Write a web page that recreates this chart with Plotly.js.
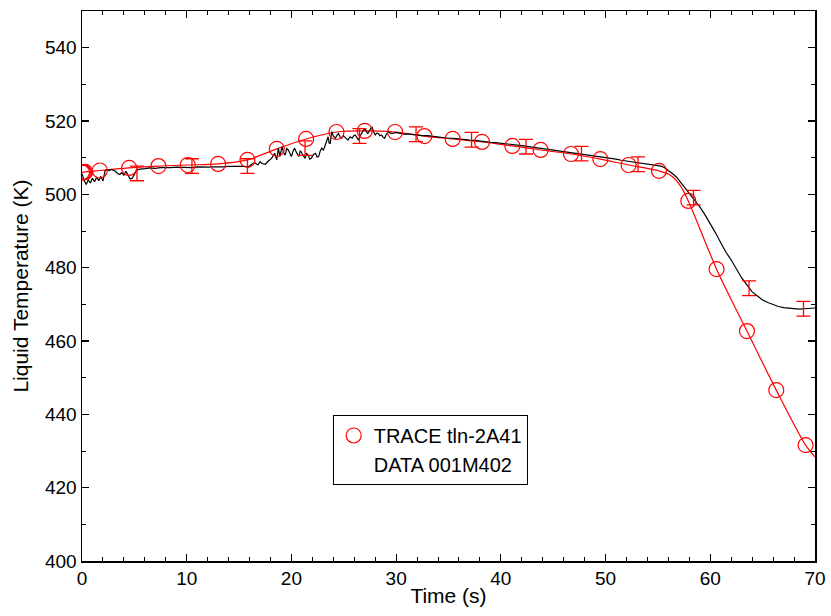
<!DOCTYPE html>
<html>
<head>
<meta charset="utf-8">
<script src="https://cdn.plot.ly/plotly-3.0.1.min.js"></script>
<style>html,body{margin:0;padding:0;background:#fff;}#chart{width:831px;height:616px;}</style>
</head>
<body>
<div id="chart"></div>
<script>
// Measured DATA 001M402 (black line)
const dataTime = [0.0,0.2,0.4,0.6,0.8,1.0,1.2,1.4,1.6,1.8,2.0,2.2,2.4,2.6,2.8,3.0,3.2,3.4,3.6,3.8,4.0,4.2,4.4,4.6,4.8,5.0,5.2,5.4,5.6,5.8,6.0,6.5,7.0,7.5,8.0,8.5,9.0,9.5,10.0,10.5,11.0,11.5,12.0,12.5,13.0,13.5,14.0,14.5,15.0,15.5,15.9,16.2,16.5,16.8,17.0,17.2,17.5,17.8,18.1,18.4,18.6,18.75,18.9,19.1,19.25,19.4,19.55,19.7,19.85,20.0,20.15,20.3,20.5,20.7,20.85,21.0,21.15,21.3,21.45,21.6,21.75,21.9,22.1,22.3,22.45,22.6,22.75,22.9,23.05,23.2,23.35,23.5,23.6,23.7,23.85,24.0,24.2,24.35,24.5,24.65,24.8,24.95,25.1,25.25,25.4,25.6,25.8,25.95,26.1,26.25,26.4,26.55,26.7,26.85,27.0,27.15,27.3,27.5,27.7,27.85,28.0,28.15,28.3,28.45,28.6,28.75,28.9,29.05,29.25,29.45,29.7,29.95,30.2,30.45,30.7,31.0,31.5,32.0,32.5,33.0,33.5,34.0,34.5,35.0,35.5,36.0,36.5,37.0,37.5,38.0,38.5,39.0,39.5,40.0,40.5,41.0,41.5,42.0,42.5,43.0,43.5,44.0,44.5,45.0,45.5,46.0,46.5,47.0,47.5,48.0,48.5,49.0,49.5,50.0,50.5,51.0,51.5,52.0,52.5,53.0,53.5,54.0,54.5,55.0,55.3,55.6,55.9,56.2,56.5,56.8,57.1,57.4,57.7,58.0,58.3,58.6,59.0,59.5,60.0,60.5,61.0,61.5,62.0,62.5,63.0,63.5,64.0,64.5,65.0,65.5,66.0,66.5,67.0,67.5,68.0,68.5,69.0,69.5,70.0];
const dataTemp = [505.6,503.8,502.7,503.9,503.1,504.4,503.4,504.7,503.7,504.9,503.6,506.4,506.8,506.5,506.8,506.6,506.3,505.7,505.4,505.9,505.2,506.3,505.1,504.2,504.4,505.6,506.5,506.8,506.9,507.1,507.0,507.2,507.1,507.3,507.2,507.3,507.4,507.3,507.4,507.3,507.5,507.4,507.4,507.5,507.4,507.5,507.6,507.5,507.6,507.6,507.5,508.2,508.6,508.0,508.9,508.4,508.2,509.1,509.8,511.2,509.4,512.6,510.3,513.0,511.4,510.7,512.5,512.1,511.0,510.3,511.7,512.6,511.3,510.3,511.9,511.2,510.5,509.8,511.1,510.7,509.6,509.8,510.9,511.2,510.2,510.3,511.8,512.6,512.0,513.5,514.4,515.7,514.0,513.9,517.1,515.9,515.3,516.1,516.6,515.6,515.3,516.0,515.7,515.2,514.8,515.7,515.3,516.0,516.2,515.4,514.8,515.9,516.6,517.4,518.0,517.1,516.6,517.6,518.4,517.0,516.2,516.7,516.6,516.0,516.2,515.6,515.3,516.3,517.1,516.7,516.6,516.9,516.8,516.5,516.4,516.5,516.3,516.2,516.0,516.0,515.8,515.6,515.6,515.3,515.3,515.1,514.9,514.8,514.7,514.5,514.3,514.2,514.1,513.9,513.8,513.6,513.5,513.3,513.1,512.9,512.7,512.4,512.3,512.0,511.9,511.7,511.5,511.3,511.1,510.9,510.6,510.4,510.2,510.0,509.8,509.6,509.3,509.1,508.9,508.7,508.5,508.3,508.1,507.8,507.7,507.3,506.7,506.1,505.4,504.6,503.5,502.5,501.5,500.5,499.4,498.1,496.6,494.4,492.1,489.5,486.8,484.2,482.1,479.5,477.2,475.3,473.4,472.3,471.2,470.5,469.9,469.4,469.1,468.9,468.7,468.7,468.8,468.9,469.0];

// Data uncertainty bars (red I-beams)
const errTime = [5.25,10.5,15.8,21.3,26.5,31.9,37.2,42.4,47.7,53.1,58.4,63.7,68.9];
const errTemp = [505.7,507.7,507.7,512.6,515.9,516.4,514.9,513.0,511.1,508.2,499.1,474.4,468.8];
const errSize = [2.0,2.0,2.0,2.0,2.0,2.0,2.0,2.0,2.0,2.0,2.0,2.0,2.0];

// TRACE tln-2A41 calculation (red curve)
const traceLineTime = [0,0.3,1.7,4.5,7.3,10.1,13.0,15.8,18.6,21.4,24.3,27.0,29.9,32.7,35.4,38.2,41.1,43.8,46.7,49.5,52.2,55.1,56.2,57.1,57.9,60.6,63.5,66.3,69.1,70.0];
const traceLineTemp = [506.0,506.1,506.5,507.2,507.7,508.0,508.3,509.4,512.4,515.1,517.0,517.3,517.0,515.9,515.1,514.3,513.2,512.1,511.0,509.6,508.0,506.4,505.2,502.5,498.2,479.6,462.7,446.6,431.6,428.4];
const traceMarkTime = [0,0.1,0.2,0.3,1.7,4.5,7.3,10.1,13.0,15.8,18.6,21.4,24.3,27.0,29.9,32.7,35.4,38.2,41.1,43.8,46.7,49.5,52.2,55.1,57.9,60.6,63.5,66.3,69.1];
const traceMarkTemp = [506.0,506.0,506.0,506.1,506.5,507.2,507.7,508.0,508.3,509.4,512.4,515.1,517.0,517.3,517.0,515.9,515.1,514.3,513.2,512.1,511.0,509.6,508.0,506.4,498.2,479.6,462.7,446.6,431.6];

const xTicks = [0,10,20,30,40,50,60,70];
const yTicks = [400,420,440,460,480,500,520,540];

const RED = '#ff0000';
const FONT = 'Arial, "Liberation Sans", Helvetica, sans-serif';

const traces = [
  {x: traceLineTime, y: traceLineTemp, mode: 'lines', line: {color: RED, width: 1.2, shape: 'spline', smoothing: 0.8}, showlegend: false, hoverinfo: 'skip'},
  {x: dataTime, y: dataTemp, mode: 'lines', line: {color: '#000000', width: 1.2}, showlegend: false},
  {x: errTime, y: errTemp, mode: 'markers', marker: {color: 'rgba(0,0,0,0)', size: 2},
   error_y: {type: 'data', array: errSize, visible: true, color: RED, thickness: 1.3, width: 7}, showlegend: false},
  {x: traceMarkTime, y: traceMarkTemp, mode: 'markers', name: 'TRACE tln-2A41',
   marker: {symbol: 'circle-open', size: 15, color: RED, line: {width: 1.2, color: RED}}, showlegend: true},
  {x: [null], y: [null], mode: 'markers', name: 'DATA 001M402', marker: {color: 'rgba(0,0,0,0)', size: 1}, showlegend: true}
];

const axisCommon = {
  showline: true, linecolor: '#000', linewidth: 1.5, mirror: 'ticks',
  ticks: 'inside', ticklen: 7, tickwidth: 1.2, tickcolor: '#000',
  showgrid: false, zeroline: false,
  tickfont: {family: FONT, size: 19, color: '#000'}
};

const layout = {
  width: 831, height: 616,
  margin: {l: 82, r: 16, t: 11, b: 55},
  paper_bgcolor: '#fff', plot_bgcolor: '#fff',
  font: {family: FONT, color: '#000'},
  xaxis: Object.assign({}, axisCommon, {
    range: [0, 70], tickvals: xTicks, ticktext: xTicks.map(String),
    minor: {dtick: 2, tick0: 0, ticks: 'inside', ticklen: 4, tickwidth: 1, tickcolor: '#000'},
    title: {text: 'Time (s)', font: {family: FONT, size: 21}, standoff: 0}
  }),
  yaxis: Object.assign({}, axisCommon, {
    range: [400, 550], tickvals: yTicks, ticktext: yTicks.map(String),
    minor: {dtick: 10, tick0: 400, ticks: 'inside', ticklen: 4, tickwidth: 1, tickcolor: '#000'},
    title: {text: 'Liquid Temperature (K)', font: {family: FONT, size: 21}, standoff: 10}
  }),
  legend: {
    x: 0.342, y: 0.2655, xanchor: 'left', yanchor: 'top',
    bgcolor: '#fff', bordercolor: '#000', borderwidth: 1,
    font: {family: FONT, size: 20, color: '#000'},
    itemwidth: 30, tracegroupgap: 0
  },
  showlegend: true
};

Plotly.newPlot('chart', traces, layout, {displayModeBar: false, staticPlot: true});
</script>
</body>
</html>
